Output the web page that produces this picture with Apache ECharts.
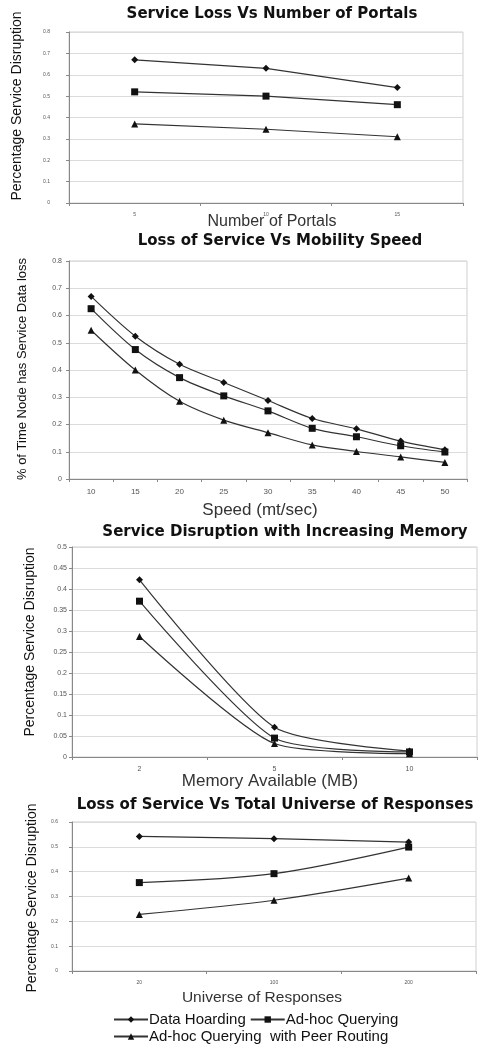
<!DOCTYPE html>
<html>
<head>
<meta charset="utf-8">
<title>Service Disruption Charts</title>
<script src="https://cdn.jsdelivr.net/npm/echarts@6/dist/echarts.min.js"></script>
<style>
  html, body { margin: 0; padding: 0; background: #fff; }
  #chart { width: 479px; height: 1046px; }
</style>
</head>
<body>
<div id="chart"></div>
<script>
// Series names
const seriesNames = ['Data Hoarding', 'Ad-hoc Querying', 'Ad-hoc Querying  with Peer Routing'];

// Panel 1: Service Loss Vs Number of Portals
const portalCategories = ['5', '10', '15'];
const portalHoarding = [0.67, 0.63, 0.54];
const portalQuerying = [0.52, 0.50, 0.46];
const portalPeer = [0.37, 0.345, 0.31];

// Panel 2: Loss of Service Vs Mobility Speed
const speedCategories = ['10', '15', '20', '25', '30', '35', '40', '45', '50'];
const speedHoarding = [0.67, 0.524, 0.421, 0.354, 0.288, 0.222, 0.184, 0.139, 0.107];
const speedQuerying = [0.625, 0.475, 0.372, 0.305, 0.25, 0.186, 0.155, 0.122, 0.099];
const speedPeer = [0.546, 0.40, 0.285, 0.216, 0.17, 0.125, 0.101, 0.081, 0.061];

// Panel 3: Service Disruption with Increasing Memory
const memoryCategories = ['2', '5', '10'];
const memoryHoarding = [0.422, 0.071, 0.014];
const memoryQuerying = [0.371, 0.045, 0.012];
const memoryPeer = [0.287, 0.032, 0.008];

// Panel 4: Loss of Service Vs Total Universe of Responses
const universeCategories = ['20', '100', '200'];
const universeHoarding = [0.542, 0.533, 0.519];
const universeQuerying = [0.356, 0.392, 0.499];
const universePeer = [0.228, 0.285, 0.374];

const FONT = '"Liberation Sans", Arial, sans-serif';
const TITLE_FONT = 'bold 15px "DejaVu Sans", "Liberation Sans", sans-serif';
const symbols = ['diamond', 'rect', 'triangle'];

const panels = [
  { title: 'Service Loss Vs Number of Portals', titleX: 272, titleY: 14,
    grid: { left: 69, width: 394, top: 32, height: 171 },
    cats: portalCategories, data: [portalHoarding, portalQuerying, portalPeer],
    max: 0.8, interval: 0.1, smooth: false, yFont: 5, xFont: 5, yDecimals: 1, yMargin: 19,
    xName: 'Number of Portals', xNameFont: 16, xNameX: 272, xNameY: 222,
    yName: 'Percentage Service Disruption', yNameFont: 14, yNameX: 17, yNameY: 106 },
  { title: 'Loss of Service Vs Mobility Speed', titleX: 280, titleY: 241,
    grid: { left: 69, width: 398, top: 261, height: 218 },
    cats: speedCategories, data: [speedHoarding, speedQuerying, speedPeer],
    max: 0.8, interval: 0.1, smooth: 0.3, yFont: 7, xFont: 8, yDecimals: 1, yMargin: 7,
    xName: 'Speed (mt/sec)', xNameFont: 17, xNameX: 260, xNameY: 510,
    yName: '% of Time Node has Service Data loss', yNameFont: 13, yNameX: 22, yNameY: 369 },
  { title: 'Service Disruption with Increasing Memory', titleX: 285, titleY: 532,
    grid: { left: 72, width: 405, top: 547, height: 210 },
    cats: memoryCategories, data: [memoryHoarding, memoryQuerying, memoryPeer],
    max: 0.5, interval: 0.05, smooth: 0.22, yFont: 7, xFont: 7, yDecimals: 2, yMargin: 5,
    xName: 'Memory Available (MB)', xNameFont: 17, xNameX: 270, xNameY: 781,
    yName: 'Percentage Service Disruption', yNameFont: 14, yNameX: 30, yNameY: 642 },
  { title: 'Loss of Service Vs Total Universe of Responses', titleX: 275, titleY: 805,
    grid: { left: 72, width: 404, top: 822, height: 149 },
    cats: universeCategories, data: [universeHoarding, universeQuerying, universePeer],
    max: 0.6, interval: 0.1, smooth: 0.3, yFont: 5, xFont: 5, yDecimals: 1, yMargin: 14,
    xName: 'Universe of Responses', xNameFont: 15.5, xNameX: 262, xNameY: 998,
    yName: 'Percentage Service Disruption', yNameFont: 14, yNameX: 32, yNameY: 898 }
];

const grids = [], xAxes = [], yAxes = [], series = [], graphics = [];

panels.forEach((p, i) => {
  grids.push(Object.assign({ show: true, borderColor: '#cfcfcf', borderWidth: 1, backgroundColor: 'transparent' }, p.grid));
  xAxes.push({
    type: 'category', gridIndex: i, data: p.cats, boundaryGap: true,
    axisLine: { lineStyle: { color: '#888', width: 1 } },
    axisTick: { show: true, length: 3, lineStyle: { color: '#888' } },
    axisLabel: { fontSize: p.xFont, color: '#555', fontFamily: FONT, margin: 9 },
    splitLine: { show: false }
  });
  yAxes.push({
    type: 'value', gridIndex: i, min: 0, max: p.max, interval: p.interval,
    axisLine: { show: true, lineStyle: { color: '#888', width: 1 } },
    axisTick: { show: true, length: 3, lineStyle: { color: '#888' } },
    axisLabel: {
      fontSize: p.yFont, color: '#555', fontFamily: FONT, margin: p.yMargin,
      formatter: v => (v === 0 ? '0' : String(parseFloat(v.toFixed(p.yDecimals))))
    },
    splitLine: { show: true, lineStyle: { color: '#dcdcdc', width: 1 } }
  });
  p.data.forEach((vals, k) => {
    series.push({
      name: seriesNames[k], type: 'line', xAxisIndex: i, yAxisIndex: i,
      data: vals, smooth: p.smooth,
      symbol: symbols[k], symbolSize: 7, showSymbol: true,
      lineStyle: { color: '#333', width: 1.2 },
      itemStyle: { color: '#111' },
      emphasis: { disabled: true },
      animation: false
    });
  });
  graphics.push({
    type: 'text', x: p.titleX, y: p.titleY,
    style: { text: p.title, font: TITLE_FONT, fill: '#111', align: 'center', verticalAlign: 'middle' }
  });
  graphics.push({
    type: 'text', x: p.xNameX, y: p.xNameY,
    style: { text: p.xName, font: p.xNameFont + 'px ' + FONT, fill: '#333', align: 'center', verticalAlign: 'middle' }
  });
  graphics.push({
    type: 'text', x: p.yNameX, y: p.yNameY, rotation: Math.PI / 2,
    style: { text: p.yName, font: p.yNameFont + 'px ' + FONT, fill: '#111', align: 'center', verticalAlign: 'middle' }
  });
});

const legendCommon = {
  orient: 'horizontal', itemWidth: 34, itemHeight: 8, itemGap: 4,
  textStyle: { fontSize: 15, color: '#111', fontFamily: FONT, padding: [0, 0, 0, -4] },
  selectedMode: false
};

const option = {
  animation: false,
  backgroundColor: '#fff',
  grid: grids,
  xAxis: xAxes,
  yAxis: yAxes,
  series: series,
  legend: [
    Object.assign({}, legendCommon, { data: [seriesNames[0], seriesNames[1]], left: 108, top: 1007 }),
    Object.assign({}, legendCommon, { data: [seriesNames[2]], left: 108, top: 1024 })
  ],
  graphic: graphics
};

const chart = echarts.init(document.getElementById('chart'), null, { renderer: 'canvas' });
chart.setOption(option);
</script>
</body>
</html>
